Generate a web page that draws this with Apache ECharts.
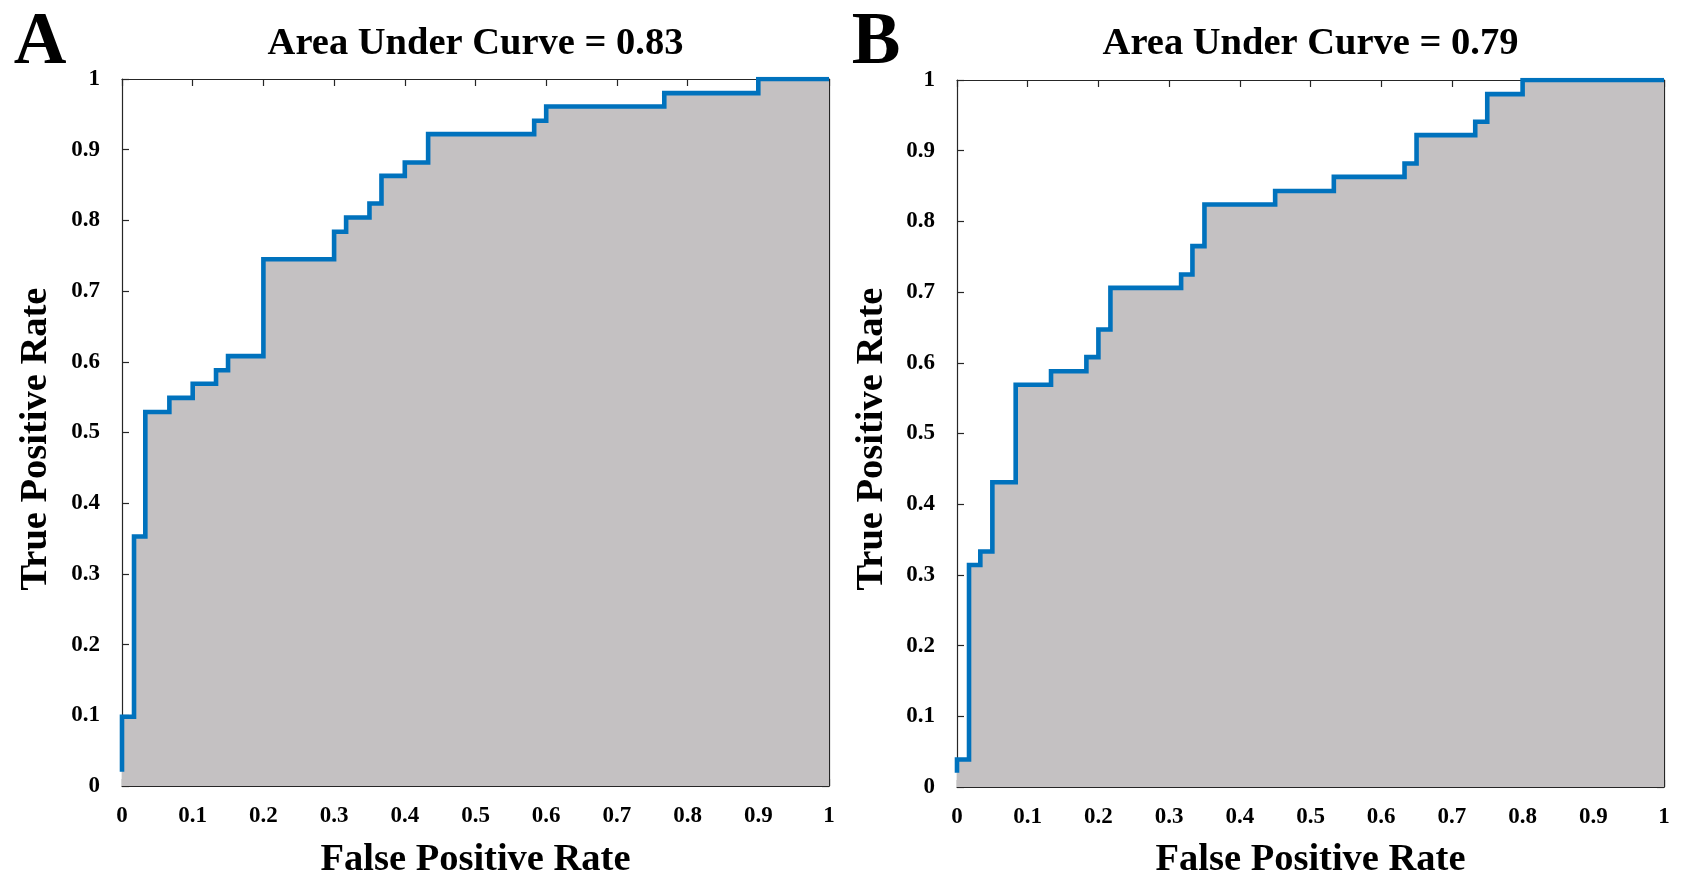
<!DOCTYPE html>
<html>
<head>
<meta charset="utf-8">
<script src="https://cdn.jsdelivr.net/npm/echarts@6/dist/echarts.min.js"></script>
<style>
html,body{margin:0;padding:0;background:#fff;}
#chart{width:1684px;height:892px;}
</style>
</head>
<body>
<div id="chart"></div>
<script>
// ---- data ----
var fprA = [0, 0, 0.017, 0.033, 0.067, 0.1, 0.133, 0.15, 0.2, 0.3, 0.317, 0.35, 0.367, 0.4, 0.433, 0.583, 0.6, 0.767, 0.9, 1];
var tprA = [0.02, 0.098, 0.353, 0.529, 0.549, 0.569, 0.588, 0.608, 0.745, 0.784, 0.804, 0.824, 0.863, 0.882, 0.922, 0.941, 0.961, 0.98, 1, 1];
var fprB = [0, 0, 0.017, 0.033, 0.05, 0.083, 0.133, 0.183, 0.2, 0.217, 0.317, 0.333, 0.35, 0.45, 0.533, 0.633, 0.65, 0.733, 0.75, 0.8, 1];
var tprB = [0.02, 0.039, 0.314, 0.333, 0.431, 0.569, 0.588, 0.608, 0.647, 0.706, 0.725, 0.765, 0.824, 0.843, 0.863, 0.882, 0.922, 0.941, 0.98, 1, 1];
var titles = ['Area Under Curve = 0.83', 'Area Under Curve = 0.79'];
var panelLetters = ['A', 'B'];
var xName = 'False Positive Rate';
var yName = 'True Positive Rate';

function zip(xs, ys) { return xs.map(function (x, i) { return [x, ys[i]]; }); }

var FONT = '"Liberation Serif", "Times New Roman", serif';
var axisColor = '#262626';
var grids = [
  { left: 122, top: 79, width: 707, height: 707 },
  { left: 957, top: 80, width: 707, height: 707 }
];

function xAx(gi, pos, showLabel) {
  return {
    type: 'value', gridIndex: gi, position: pos, min: 0, max: 1, interval: 0.1,
    axisLine: { show: true, onZero: false, lineStyle: { color: axisColor, width: 1.2 } },
    axisTick: { show: true, inside: true, length: 7, lineStyle: { color: axisColor, width: 1.2 } },
    axisLabel: { show: showLabel, margin: 19, color: '#000', fontFamily: FONT, fontWeight: 'bold', fontSize: 23 },
    splitLine: { show: false }
  };
}
function yAx(gi, pos, showLabel) {
  return {
    type: 'value', gridIndex: gi, position: pos, min: 0, max: 1, interval: 0.1,
    axisLine: { show: true, onZero: false, lineStyle: { color: axisColor, width: 1.2 } },
    axisTick: { show: true, inside: true, length: 7, lineStyle: { color: axisColor, width: 1.2 } },
    axisLabel: { show: showLabel, margin: 22, color: '#000', fontFamily: FONT, fontWeight: 'bold', fontSize: 23 },
    splitLine: { show: false }
  };
}

function series(idx, data) {
  return {
    type: 'line', xAxisIndex: idx * 2, yAxisIndex: idx * 2, data: data,
    step: 'end', symbol: 'none', silent: true, animation: false,
    lineStyle: { color: '#0072BD', width: 4.6, join: 'miter' },
    areaStyle: { color: '#c4c1c2', opacity: 1, origin: 'start' },
    clip: true
  };
}

function txt(x, y, text, size, rot) {
  return {
    type: 'text', x: x, y: y, rotation: rot || 0,
    style: { text: text, fill: '#000', font: 'bold ' + size + 'px ' + FONT, align: 'center', verticalAlign: 'middle' }
  };
}

var option = {
  backgroundColor: '#fff',
  animation: false,
  grid: grids,
  xAxis: [xAx(0, 'bottom', true), xAx(0, 'top', false), xAx(1, 'bottom', true), xAx(1, 'top', false)],
  yAxis: [yAx(0, 'left', true), yAx(0, 'right', false), yAx(1, 'left', true), yAx(1, 'right', false)],
  series: [series(0, zip(fprA, tprA)), series(1, zip(fprB, tprB))],
  graphic: [
    txt(40, 44, panelLetters[0], 73),
    txt(876, 44, panelLetters[1], 73),
    txt(475.5, 44, titles[0], 38.5),
    txt(1310.5, 44, titles[1], 38.5),
    txt(475.5, 860, xName, 38.5),
    txt(1310.5, 860, xName, 38.5),
    txt(36, 439, yName, 38.5, Math.PI / 2),
    txt(872, 439, yName, 38.5, Math.PI / 2)
  ]
};

var chart = echarts.init(document.getElementById('chart'), null, { renderer: 'canvas' });
chart.setOption(option);
</script>
</body>
</html>
